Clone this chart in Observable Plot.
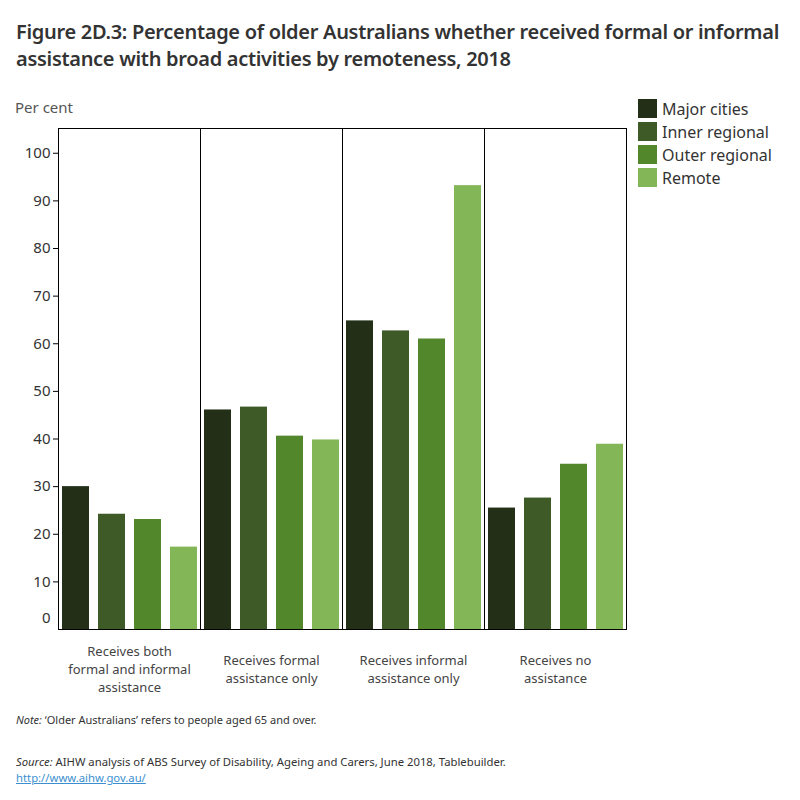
<!DOCTYPE html>
<html>
<head>
<meta charset="utf-8">
<script src="https://cdn.jsdelivr.net/npm/d3@7"></script>
<script src="https://cdn.jsdelivr.net/npm/@observablehq/plot@0.6"></script>
<style>
  body { margin: 0; background: #fff; font-family: "Noto Sans", "Open Sans", sans-serif; }
  #wrap { position: relative; width: 800px; height: 800px; overflow: hidden; }
  #title { position: absolute; left: 16px; top: 18px; font-size: 20px; font-weight: 600; color: #333; line-height: 27px; letter-spacing: -0.3px; white-space: nowrap; }
  #ylab { position: absolute; left: 15px; top: 97px; font-size: 15px; color: #555; }
  #chart { position: absolute; left: 0; top: 90px; }
  #legend { position: absolute; left: 638px; top: 97px; font-size: 16px; color: #333; }
  #legend .item { display: flex; align-items: center; height: 23px; }
  #legend .sw { width: 19px; height: 19px; margin-right: 5px; }
  #note { position: absolute; left: 16px; top: 712px; font-size: 11px; color: #333; }
  #source { position: absolute; left: 16px; top: 754px; font-size: 11.3px; color: #333; line-height: 16px; }
  #source a { color: #3b8fd1; text-decoration: underline; }
</style>
</head>
<body>
<div id="wrap">
  <div id="title">Figure 2D.3: Percentage of older Australians whether received formal or informal<br>assistance with broad activities by remoteness, 2018</div>
  <div id="ylab">Per cent</div>
  <div id="chart"></div>
  <div id="legend"></div>
  <div id="note"><i>Note:</i> ‘Older Australians’ refers to people aged 65 and over.</div>
  <div id="source"><i>Source:</i> AIHW analysis of ABS Survey of Disability, Ageing and Carers, June 2018, Tablebuilder.<br><a href="http://www.aihw.gov.au/">http://www.aihw.gov.au/</a></div>
</div>
<script>
const categories = [
  "Receives both formal and informal assistance",
  "Receives formal assistance only",
  "Receives informal assistance only",
  "Receives no assistance"
];
const categoryLabels = [
  "Receives both\nformal and informal\nassistance",
  "Receives formal\nassistance only",
  "Receives informal\nassistance only",
  "Receives no\nassistance"
];
const series = ["Major cities", "Inner regional", "Outer regional", "Remote"];
const colors = ["#232f17", "#3d5a27", "#52872c", "#82b657"];
const majorCities   = [30.0, 46.1, 64.8, 25.5];
const innerRegional = [24.2, 46.7, 62.7, 27.6];
const outerRegional = [23.1, 40.6, 61.0, 34.7];
const remote        = [17.3, 39.8, 93.2, 38.9];
const yTicks = [10, 20, 30, 40, 50, 60, 70, 80, 90, 100];

const seriesValues = [majorCities, innerRegional, outerRegional, remote];
const data = [];
categories.forEach((c, i) => {
  series.forEach((s, j) => data.push({category: c, series: s, value: seriesValues[j][i]}));
});
const labelData = categories.map((c, i) => ({category: c, label: categoryLabels[i]}));

const chart = Plot.plot({
  width: 800,
  height: 610,
  marginLeft: 57,
  marginRight: 173,
  marginTop: 38,
  marginBottom: 71,
  style: {fontFamily: "'Noto Sans', 'Open Sans', sans-serif", color: "#333", background: "transparent"},
  fx: {domain: categories, padding: 0, axis: null},
  x: {domain: series, axis: null, paddingInner: 0.25, paddingOuter: 0.05},
  y: {domain: [0, 105.2], axis: null},
  color: {domain: series, range: colors},
  marks: [
    Plot.barY(data, {fx: "category", x: "series", y: "value", fill: "series"}),
    Plot.frame({stroke: "#000", strokeWidth: 1}),
    Plot.axisY(yTicks, {anchor: "left", tickSize: 5, tickPadding: 3, fontSize: 15, stroke: "#000", fill: "#333", label: null}),
    Plot.axisY([0], {anchor: "left", tickSize: 0, tickPadding: 8, dy: -11, fontSize: 15, fill: "#333", label: null}),
    Plot.text(labelData, {fx: "category", text: "label", frameAnchor: "bottom", dy: 39, lineAnchor: "middle", lineHeight: 1.38, fontSize: 13, fill: "#444"})
  ]
});
document.getElementById("chart").appendChild(chart);

const legend = document.getElementById("legend");
series.forEach((s, j) => {
  const item = document.createElement("div");
  item.className = "item";
  const sw = document.createElement("div");
  sw.className = "sw";
  sw.style.background = colors[j];
  const t = document.createElement("span");
  t.textContent = s;
  item.appendChild(sw);
  item.appendChild(t);
  legend.appendChild(item);
});
</script>
</body>
</html>
